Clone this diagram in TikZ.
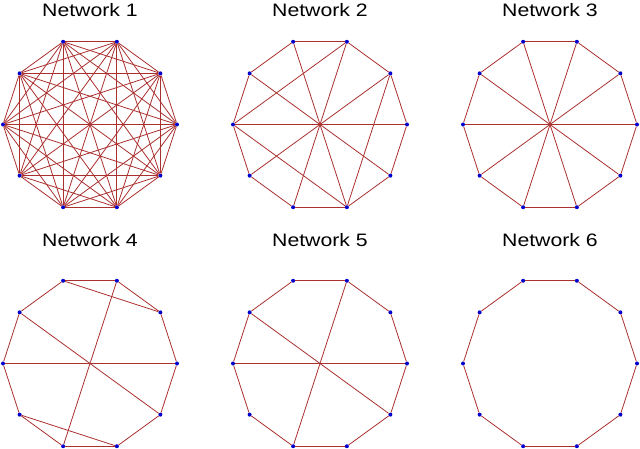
\documentclass[tikz,border=0pt]{standalone}
\usepackage{fontspec}
\setmainfont{Liberation Sans}
\usepackage{tikz}
\usetikzlibrary{calc}

\definecolor{edgered}{RGB}{170,48,48}
\definecolor{dotblue}{RGB}{0,0,205}

\tikzset{
  vtx/.style={circle,fill=dotblue,inner sep=0pt,minimum size=4pt},
  edge/.style={draw=edgered,line width=0.8pt},
  title/.style={anchor=base,font=\fontsize{18}{20}\selectfont,xscale=1.18,transform shape}
}

\begin{document}
\begin{tikzpicture}[x=1pt,y=1pt]
\useasboundingbox (0,0) rectangle (640,448);
% titles:
\node[title] (t1) at (90,431.3) {Network 1};
\node[title] (t2) at (320,431.3) {Network 2};
\node[title] (t3) at (550,431.3) {Network 3};
\node[title] (t4) at (90,201.3) {Network 4};
\node[title] (t5) at (320,201.3) {Network 5};
\node[title] (t6) at (550,201.3) {Network 6};
% vertices, ten per network:
\foreach \nw/\cx/\cy in {a/90/323.5,b/320/323.5,c/550/323.5,d/90/84.5,e/320/84.5,f/550/84.5}
  \foreach \k in {0,...,9}
    \node[vtx] (\nw\k) at ($(\cx,\cy)+(36*\k:87)$) {};
% network 1, every pair:
\foreach \i in {0,...,8} {
  \pgfmathtruncatemacro\j{\i+1}
  \foreach \m in {\j,...,9}
    \draw[edge] (a\i) -- (a\m);
}
% the ring in networks 2 to 6:
\foreach \nw in {b,c,d,e,f}
  \foreach \i in {0,...,9} {
    \pgfmathtruncatemacro\j{mod(\i+1,10)}
    \draw[edge] (\nw\i) -- (\nw\j);
  }
% chords:
\foreach \i/\j in {0/5,1/6,2/7,3/8,4/9,2/5,5/8,1/8}
  \draw[edge] (b\i) -- (b\j);
\foreach \i/\j in {0/5,1/6,2/7,3/8,4/9}
  \draw[edge] (c\i) -- (c\j);
\foreach \i/\j in {0/5,1/3,2/7,4/9,6/8}
  \draw[edge] (d\i) -- (d\j);
\foreach \i/\j in {0/5,2/7,4/9}
  \draw[edge] (e\i) -- (e\j);
\end{tikzpicture}
\end{document}
